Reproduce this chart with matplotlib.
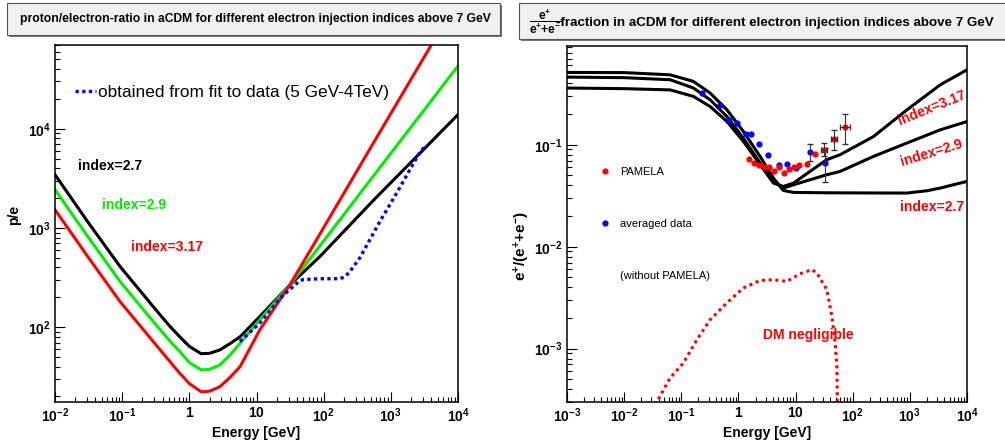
import numpy as np
import matplotlib
matplotlib.use("Agg")
import matplotlib.pyplot as plt
from matplotlib.patches import Rectangle
from matplotlib.lines import Line2D
from matplotlib.ticker import LogLocator, FuncFormatter, NullFormatter

plt.rcParams['font.family'] = ['Liberation Sans', 'DejaVu Sans']
plt.rcParams['mathtext.fontset'] = 'custom'
plt.rcParams['mathtext.rm'] = 'Liberation Sans'
plt.rcParams['mathtext.it'] = 'Liberation Sans:italic'
plt.rcParams['mathtext.bf'] = 'Liberation Sans:bold'
plt.rcParams['mathtext.default'] = 'bf'

# left panel: proton/electron ratio
e_pe = [0.01, 0.03, 0.093, 0.29, 0.5, 0.72, 1.0, 1.5, 2.0, 2.85, 4.0, 5.7, 11.2, 31.4, 88, 546, 10000]
pe_27 = [3450, 1180, 409, 161, 104, 80, 64, 54, 54.5, 59, 68, 80, 128, 267, 516, 1890, 13900]
pe_29 = [2440, 840, 289, 114, 74, 56.8, 44, 37.1, 37.5, 41.6, 52, 68.9, 118.5, 267, 661, 3320, 43000]
pe_317 = [1530, 527, 181, 71.6, 46, 34.3, 27, 22.3, 22.6, 25.1, 31, 40, 94, 267, 870, 7130, 200000]

e_fit = [5.66, 11.2, 22.3, 35.2, 44, 50, 88, 174, 207, 245, 346, 487, 686, 966, 1360, 1920, 2700, 3210]
pe_fit = [71.6, 110, 196, 257, 294, 302, 308, 308, 322, 362, 501, 762, 1160, 1720, 2550, 3880, 5770, 6620]

# right panel: positron fraction
e_27 = [0.001, 0.01, 0.064, 0.163, 0.32, 0.63, 1.22, 2.4, 4.1, 6.1, 9.2, 35, 135, 890, 2000, 3400, 10000]
fr_27 = [0.512, 0.51, 0.485, 0.418, 0.321, 0.220, 0.135, 0.0767, 0.0471, 0.0356, 0.0341, 0.0338,
         0.0337, 0.0336, 0.0354, 0.0376, 0.0437]
e_29 = [0.001, 0.01, 0.064, 0.163, 0.32, 0.63, 1.22, 2.4, 4.1, 6.1, 9.2, 35, 60, 229, 890, 3400, 10000]
fr_29 = [0.461, 0.455, 0.434, 0.360, 0.276, 0.189, 0.116, 0.0662, 0.0437, 0.0376, 0.0405, 0.0508,
         0.0547, 0.0767, 0.104, 0.140, 0.169]
e_317 = [0.001, 0.01, 0.064, 0.163, 0.32, 0.63, 1.22, 2.4, 4.1, 6.1, 9.2, 35, 60, 229, 890, 3400, 10000]
fr_317 = [0.360, 0.355, 0.345, 0.298, 0.237, 0.169, 0.108, 0.0637, 0.0421, 0.039, 0.0421, 0.0713,
          0.0798, 0.120, 0.220, 0.387, 0.543]

e_dm = [0.0348, 0.0637, 0.109, 0.187, 0.319, 0.626, 1.22, 2.40, 4.10, 7.05, 12.0, 19.3, 23.6, 35.3, 43.2, 49.4, 52.8, 54.2]
fr_dm = [2.8e-4, 5.16e-4, 7.24e-4, 1.22e-3, 1.92e-3, 2.81e-3, 3.94e-3, 4.67e-3, 4.74e-3, 4.57e-3,
         5.43e-3, 5.96e-3, 5.52e-3, 3.79e-3, 2.07e-3, 1.14e-3, 6.7e-4, 2.5e-4]

e_pam = [1.54, 1.88, 2.31, 2.82, 3.45, 4.22, 5.16, 6.31, 7.73, 9.45, 11.7, 16.0, 22.0, 31.7, 47.4, 74.0]
fr_pam = [0.0729, 0.0662, 0.0637, 0.0599, 0.0599, 0.0547, 0.0604, 0.0528, 0.0582, 0.0599, 0.0637,
          0.0647, 0.0811, 0.0893, 0.1146, 0.148]
e_pam_err = [31.7, 47.4, 74.0]
fr_pam_err = [0.0893, 0.1146, 0.148]
e_pam_lo = [28, 41, 61]
e_pam_hi = [36, 54, 88]
fr_pam_lo = [0.077, 0.089, 0.102]
fr_pam_hi = [0.105, 0.138, 0.200]

e_avg = [0.234, 0.479, 0.687, 0.937, 1.35, 1.67, 2.33, 3.35, 5.16, 7.05, 10.3, 18.0, 32.1]
fr_avg = [0.321, 0.247, 0.173, 0.163, 0.128, 0.128, 0.1016, 0.0798, 0.0637, 0.0651, 0.0591, 0.0841, 0.0662]
e_avg_err = [18.0, 32.1]
fr_avg_err = [0.0841, 0.0662]
fr_avg_lo = [0.0686, 0.0427]
fr_avg_hi = [0.1023, 0.0928]

# major ticks of each axis
xticks_pe = [1e-2, 1e-1, 1, 10, 1e2, 1e3, 1e4]
yticks_pe = [1e2, 1e3, 1e4]
xticks_fr = [1e-3, 1e-2, 1e-1, 1, 10, 1e2, 1e3, 1e4]
yticks_fr = [1e-3, 1e-2, 1e-1]

W, H = 1005, 448
fig = plt.figure(figsize=(W / 100, H / 100), dpi=100)
ax1 = fig.add_axes([55 / W, 1 - 402 / H, 403 / W, 357 / H])
ax2 = fig.add_axes([567 / W, 1 - 402 / H, 400 / W, 356 / H])


def log_label(v, pos):
    e = int(round(np.log10(v)))
    if e == 0:
        return r'$1$'
    if e == 1:
        return r'$10$'
    return r'$10^{%d}$' % e


for ax, xt, yt in ((ax1, xticks_pe, yticks_pe), (ax2, xticks_fr, yticks_fr)):
    ax.set_xscale('log')
    ax.set_yscale('log')
    ax.set_xticks(xt)
    ax.set_yticks(yt)
    for a in (ax.xaxis, ax.yaxis):
        a.set_minor_locator(LogLocator(base=10, subs=np.arange(2, 10), numticks=20))
        a.set_major_formatter(FuncFormatter(log_label))
        a.set_minor_formatter(NullFormatter())
    ax.tick_params(which='both', direction='in', top=False, right=False, width=0.8, labelsize=10, pad=3)
    ax.tick_params(which='major', length=7.5)
    ax.tick_params(which='minor', length=3.8)
    for s in ax.spines.values():
        s.set_linewidth(1.1)

# left panel
ax1.plot(e_pe, pe_27, color='black', lw=2.2)
ax1.plot(e_pe, pe_29, color='#00ee00', lw=2.2)
ax1.plot(e_pe, pe_317, color='red', lw=2.2)
ax1.plot(e_fit, pe_fit, color='blue', lw=2.4, ls=(0, (1, 1)),
         label='obtained from fit to data (5 GeV-4TeV)')
ax1.set_xlim(0.01, 1e4)
ax1.set_ylim(17.6, 7.0e4)
ax1.legend(loc='center left', bbox_to_anchor=(0.05, 0.866), frameon=False, fontsize=12.4,
           handlelength=1.2, handletextpad=0.1, borderpad=0, borderaxespad=0)
ax1.text(0.057, 0.661, 'index=2.7', transform=ax1.transAxes, color='black',
         fontsize=10, fontweight='bold', va='center')
ax1.text(0.116, 0.552, 'index=2.9', transform=ax1.transAxes, color='#00ee00',
         fontsize=10, fontweight='bold', va='center')
ax1.text(0.188, 0.435, 'index=3.17', transform=ax1.transAxes, color='red',
         fontsize=10, fontweight='bold', va='center')
ax1.set_xlabel('Energy [GeV]', fontsize=10, fontweight='bold')
ax1.xaxis.set_label_coords(0.5, -0.067)
ax1.set_ylabel('p/e', fontsize=10, fontweight='bold')
ax1.yaxis.set_label_coords(-0.084, 0.524)

# right panel
ax2.plot(e_27, fr_27, color='black', lw=2.2)
ax2.plot(e_29, fr_29, color='black', lw=2.2)
ax2.plot(e_317, fr_317, color='black', lw=2.2)
ax2.plot(e_dm, fr_dm, color='red', lw=2.2, ls=(0, (1, 1.2)))
ax2.plot(e_avg, fr_avg, 'o', color='blue', ms=4.5, mec='none')
ax2.errorbar(e_avg_err, fr_avg_err,
             yerr=[np.array(fr_avg_err) - np.array(fr_avg_lo), np.array(fr_avg_hi) - np.array(fr_avg_err)],
             fmt='none', ecolor='#333333', elinewidth=0.8, capsize=2)
ax2.plot(e_pam, fr_pam, 'o', color='red', ms=4.5, mec='none')
ax2.errorbar(e_pam_err, fr_pam_err,
             xerr=[np.array(e_pam_err) - np.array(e_pam_lo), np.array(e_pam_hi) - np.array(e_pam_err)],
             yerr=[np.array(fr_pam_err) - np.array(fr_pam_lo), np.array(fr_pam_hi) - np.array(fr_pam_err)],
             fmt='none', ecolor='#333333', elinewidth=0.8, capsize=2)
ax2.set_xlim(1e-3, 1e4)
ax2.set_ylim(3.0e-4, 0.93)

handles = [Line2D([], [], ls='none', marker='o', color='red', ms=4.5, mec='none'),
           Line2D([], [], ls='none', marker='o', color='blue', ms=4.5, mec='none'),
           Line2D([], [], ls='none')]
ax2.legend(handles, ['PAMELA', 'averaged data', '(without PAMELA)'], loc='upper left',
           bbox_to_anchor=(0.075, 0.660), frameon=False, fontsize=8, handlelength=1.5,
           handletextpad=0.6, labelspacing=3.76, borderpad=0, borderaxespad=0)

ax2.text(0.9125, 0.826, 'index=3.17', transform=ax2.transAxes, color='red', fontsize=10,
         fontweight='bold', rotation=22, ha='center', va='center')
ax2.text(0.912, 0.699, 'index=2.9', transform=ax2.transAxes, color='red', fontsize=10,
         fontweight='bold', rotation=17, ha='center', va='center')
ax2.text(0.912, 0.549, 'index=2.7', transform=ax2.transAxes, color='red', fontsize=10,
         fontweight='bold', ha='center', va='center')
ax2.text(0.604, 0.188, 'DM negligible', transform=ax2.transAxes, color='red', fontsize=10,
         fontweight='bold', ha='center', va='center')
ax2.set_xlabel('Energy [GeV]', fontsize=10, fontweight='bold')
ax2.xaxis.set_label_coords(0.5, -0.067)
ax2.set_ylabel(r'$e^{+}/(e^{+}{+}e^{-})$', fontsize=11)
ax2.yaxis.set_label_coords(-0.0875, 0.44)

# title boxes
for x0, y0, x1, y1 in [(7, 3, 500, 35), (519, 3, 1010, 39)]:
    fig.add_artist(Rectangle(((x0 + 2) / W, 1 - (y1 + 2) / H), (x1 - x0) / W, (y1 - y0) / H,
                             transform=fig.transFigure, facecolor='#777777', edgecolor='none'))
    fig.add_artist(Rectangle((x0 / W, 1 - y1 / H), (x1 - x0) / W, (y1 - y0) / H,
                             transform=fig.transFigure, facecolor='#f0f0f0', edgecolor='#555555', lw=0.8))

fig.text(255 / W, 1 - 19 / H,
         'proton/electron-ratio in aCDM for different electron injection indices above 7 GeV',
         fontsize=8.7, fontweight='bold', ha='center', va='center')
fig.text(545 / W, 1 - 22 / H, r'$\dfrac{e^{+}}{e^{+}{+}e^{-}}$', fontsize=8.5, ha='center', va='center')
fig.text(556 / W, 1 - 23 / H,
         '-fraction in aCDM for different electron injection indices above 7 GeV',
         fontsize=9.6, fontweight='bold', ha='left', va='center')

fig.savefig('out.png', dpi=100)
